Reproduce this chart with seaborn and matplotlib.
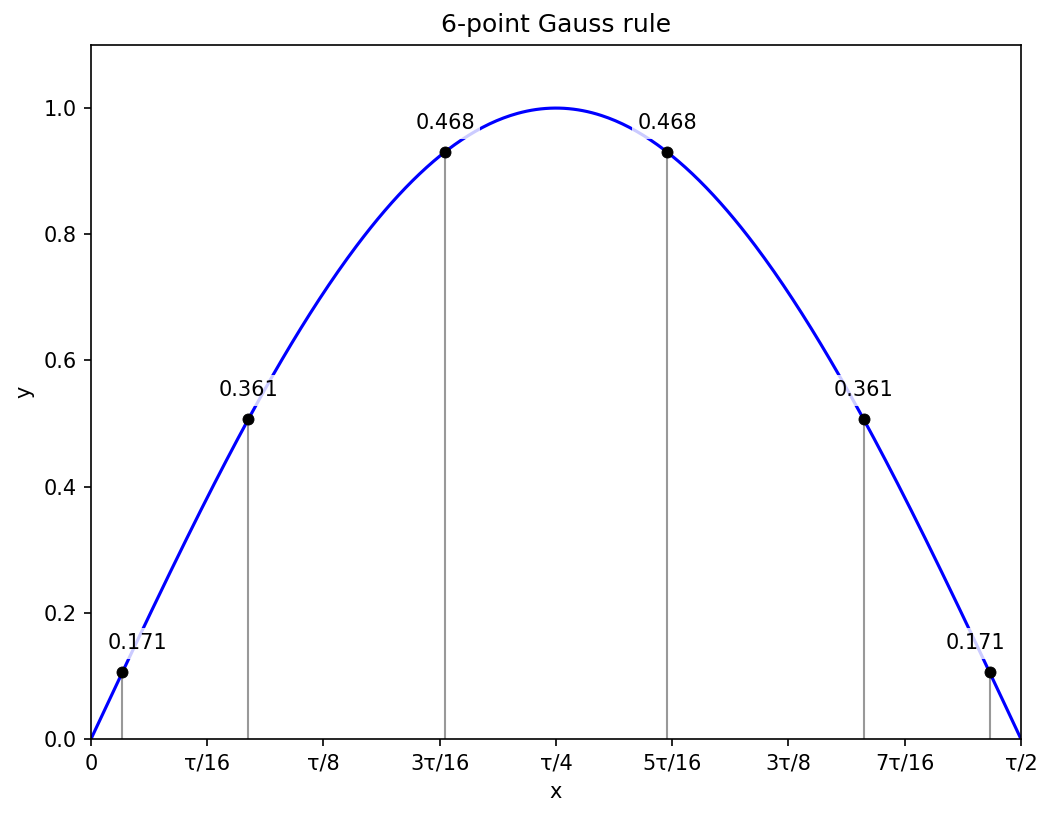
import numpy as np
import matplotlib
matplotlib.use('Agg')
import matplotlib.pyplot as plt
import seaborn as sns

# 6-point Gauss rule on [0, tau/2] applied to sin(x)
nodes = [0.106, 0.532, 1.196, 1.946, 2.610, 3.036]
node_y = [0.106, 0.507, 0.930, 0.930, 0.507, 0.106]
weights = [0.171, 0.361, 0.468, 0.468, 0.361, 0.171]
tick_labels = ['0', 'τ/16', 'τ/8', '3τ/16', 'τ/4', '5τ/16', '3τ/8', '7τ/16', 'τ/2']

xs = np.linspace(0, np.pi, 400)
ys = np.sin(xs)

sns.set_style('ticks')
plt.rcParams['font.family'] = ['DejaVu Sans']
for k in ['text.color', 'axes.labelcolor', 'xtick.color', 'ytick.color', 'axes.edgecolor']:
    plt.rcParams[k] = 'black'

fig = plt.figure(figsize=(1052 / 150, 818 / 150), dpi=150)
ax = fig.add_axes([0.0865, 0.0966, 0.8840, 0.8484])

sns.lineplot(x=xs, y=ys, color='blue', linewidth=1.5, ax=ax, zorder=2)
ax.vlines(nodes, 0, node_y, color='#999999', linewidth=1, zorder=1)
sns.scatterplot(x=nodes, y=node_y, color='black', s=28, edgecolor='black', ax=ax, zorder=3)

# outer labels nudged inward so they stay inside the frame
shift = [7, 0, 0, 0, 0, -7]
for x, y, w, dx in zip(nodes, node_y, weights, shift):
    ax.annotate(f'{w:.3f}', (x, y), xytext=(dx, 9), textcoords='offset points',
                ha='center', va='bottom', fontsize=10, zorder=4,
                bbox=dict(boxstyle='square,pad=0.25', facecolor='white', edgecolor='none', alpha=0.8))

ax.set_xlim(0, np.pi)
ax.set_ylim(0, 1.1)
ax.set_xticks([k * np.pi / 8 for k in range(9)])
ax.set_xticklabels(tick_labels)
ax.set_yticks([0, 0.2, 0.4, 0.6, 0.8, 1.0])
ax.set_xlabel('x')
ax.set_ylabel('y')
ax.set_title('6-point Gauss rule')
for s in ax.spines.values():
    s.set_visible(True)
    s.set_linewidth(0.8)

fig.savefig('out.png', dpi=150)
